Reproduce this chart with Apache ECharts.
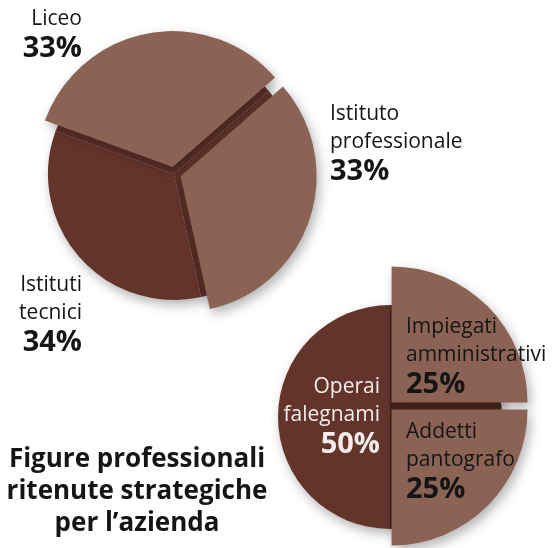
<!DOCTYPE html>
<html>
<head>
<meta charset="utf-8">
<script src="https://cdn.jsdelivr.net/npm/echarts@6/dist/echarts.min.js"></script>
<style>
  html, body { margin: 0; padding: 0; background: #fff; }
  #main { width: 553px; height: 548px; }
</style>
</head>
<body>
<div id="main"></div>
<script>
// dati: scuole di provenienza
const topNames = ['Liceo', 'Istituto professionale', 'Istituti tecnici'];
const topValues = [33, 33, 34];
// dati: figure professionali
const bottomNames = ['Impiegati amministrativi', 'Addetti pantografo', 'Operai falegnami'];
const bottomValues = [25, 25, 50];

const LIGHT = '#8b6354';
const DARK = '#63342a';
const GAP = '#4f2a20';
const FONT = 'Open Sans';

// posizione etichette (x, y in alto) e stile
const topLabels = [
    { x: 82, y: 5, side: 'R' },
    { x: 330, y: 100, side: 'L' },
    { x: 82, y: 271, side: 'R' }
];
const bottomLabels = [
    { x: 406, y: 313, side: 'L' },
    { x: 406, y: 418, side: 'L' },
    { x: 380, y: 373, side: 'W' }
];
const topLight = [true, true, false];
const bottomLight = [true, true, false];

const rich = {};
[['L', 'left', '#151515'], ['R', 'right', '#151515'], ['W', 'right', '#f4ede9']].forEach(([k, a, c]) => {
    rich['n' + k] = { fontFamily: FONT, fontSize: 21, lineHeight: 28, align: a, color: c };
    rich['p' + k] = { fontFamily: FONT, fontSize: 29, fontWeight: 'bold', lineHeight: 31, align: a, color: c };
});

const shadow = { shadowBlur: 12, shadowOffsetX: 3, shadowOffsetY: 5, shadowColor: 'rgba(0,0,0,0.3)' };

function labelText(cfg) {
    return (p) => {
        const k = cfg[p.dataIndex].side;
        return p.name.split(' ').map(w => '{n' + k + '|' + w + '}').join('\n') + '\n{p' + k + '|' + p.value + '%}';
    };
}
function labelPos(cfg) {
    return (p) => {
        const c = cfg[p.dataIndex];
        return { x: c.x, y: c.y, align: c.side === 'L' ? 'left' : 'right', verticalAlign: 'top' };
    };
}

// fondo: torta intera scura sotto le fette staccate
function baseSeries(names, values, light, center, radius, startAngle, gapColor) {
    return {
        type: 'pie', center: center, radius: radius, startAngle: startAngle,
        silent: true, label: { show: false }, labelLine: { show: false }, z: 1,
        data: names.map((n, i) => ({
            name: n, value: values[i],
            itemStyle: Object.assign({ color: light[i] ? gapColor : DARK }, shadow)
        }))
    };
}
// fette chiare staccate
function mainSeries(names, values, light, center, radius, startAngle, offset) {
    return {
        type: 'pie', center: center, radius: radius, startAngle: startAngle,
        selectedMode: 'multiple', selectedOffset: offset, silent: true, z: 2,
        label: { show: false }, labelLine: { show: false },
        data: names.map((n, i) => {
            const st = light[i] ? Object.assign({ color: LIGHT }, shadow) : { color: 'transparent' };
            return { name: n, value: values[i], selected: light[i], itemStyle: st, select: { itemStyle: st } };
        })
    };
}
// etichette
function labelSeries(names, values, cfg, center, radius, startAngle) {
    return {
        type: 'pie', center: center, radius: radius, startAngle: startAngle,
        silent: true, z: 3, avoidLabelOverlap: false,
        itemStyle: { color: 'transparent' },
        label: { show: true, position: 'outside', formatter: labelText(cfg), rich: rich },
        labelLine: { show: false },
        labelLayout: labelPos(cfg),
        data: names.map((n, i) => ({ name: n, value: values[i] }))
    };
}

const option = {
    animation: false,
    series: [
        baseSeries(topNames, topValues, topLight, [174, 174], 126, 160, DARK),
        mainSeries(topNames, topValues, topLight, [174, 174], 136, 160, 7),
        labelSeries(topNames, topValues, topLabels, [174, 174], 126, 160),
        baseSeries(bottomNames, bottomValues, bottomLight, [390, 417], 112, 90, GAP),
        mainSeries(bottomNames, bottomValues, bottomLight, [388, 406], 136, 90, 5),
        labelSeries(bottomNames, bottomValues, bottomLabels, [390, 417], 112, 90)
    ],
    graphic: [{
        type: 'text', x: 137, y: 444,
        style: {
            text: 'Figure professionali\nritenute strategiche\nper l\u2019azienda',
            fontFamily: FONT, fontSize: 26, fontWeight: 'bold', lineHeight: 32,
            align: 'center', verticalAlign: 'top', fill: '#151515'
        }
    }]
};

echarts.init(document.getElementById('main')).setOption(option);
</script>
</body>
</html>
